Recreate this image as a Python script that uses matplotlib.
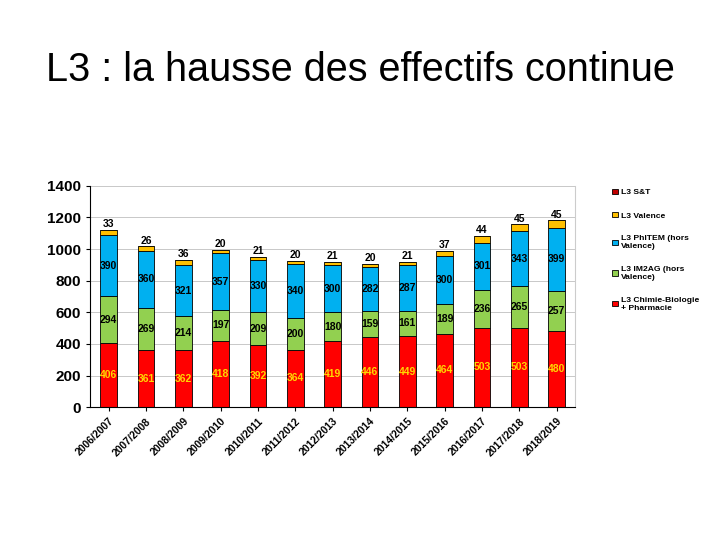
import matplotlib.pyplot as plt
import numpy as np

plt.rcParams['font.family'] = ['Liberation Sans', 'DejaVu Sans']

years = ['2006/2007', '2007/2008', '2008/2009', '2009/2010', '2010/2011', '2011/2012',
         '2012/2013', '2013/2014', '2014/2015', '2015/2016', '2016/2017', '2017/2018', '2018/2019']
chimie = [406, 361, 362, 418, 392, 364, 419, 446, 449, 464, 503, 503, 480]
im2ag = [294, 269, 214, 197, 209, 200, 180, 159, 161, 189, 236, 265, 257]
phitem = [390, 360, 321, 357, 330, 340, 300, 282, 287, 300, 301, 343, 399]
valence = [33, 26, 36, 20, 21, 20, 21, 20, 21, 37, 44, 45, 45]
st = [0] * 13

fig = plt.figure(figsize=(7.2, 5.4), dpi=100)
fig.text(0.5, 0.87, 'L3 : la hausse des effectifs continue', ha='center', va='center', fontsize=28.5)

ax = fig.add_axes([0.125, 0.246, 0.674, 0.41])
x = np.arange(len(years))
w = 0.45
ek = dict(edgecolor='black', linewidth=0.6)

b0 = np.array(chimie)
b1 = b0 + np.array(im2ag)
b2 = b1 + np.array(phitem)
b3 = b2 + np.array(valence)

h_st = ax.bar(x, st, w, bottom=b3, color='#C00000', **ek)
h_ch = ax.bar(x, chimie, w, color='#FF0000', **ek)
h_im = ax.bar(x, im2ag, w, bottom=b0, color='#92D050', **ek)
h_ph = ax.bar(x, phitem, w, bottom=b1, color='#00B0F0', **ek)
h_va = ax.bar(x, valence, w, bottom=b2, color='#FFC000', **ek)

for i in x:
    ax.text(i, chimie[i] / 2, str(chimie[i]), ha='center', va='center', color='#FFD700',
            fontsize=7.5, fontweight='bold')
    ax.text(i, b0[i] + im2ag[i] / 2, str(im2ag[i]), ha='center', va='center', color='black',
            fontsize=7.5, fontweight='bold')
    ax.text(i, b1[i] + phitem[i] / 2, str(phitem[i]), ha='center', va='center', color='black',
            fontsize=7.5, fontweight='bold')
    ax.text(i, b3[i] + 5, str(valence[i]), ha='center', va='bottom', color='black',
            fontsize=7.5, fontweight='bold')

ax.set_xlim(-0.5, len(years) - 0.5)
ax.set_ylim(0, 1400)
ax.set_yticks(range(0, 1401, 200))
ax.set_yticklabels([str(v) for v in range(0, 1401, 200)], fontsize=11, fontweight='bold')
ax.set_xticks(x)
ax.set_xticklabels(years, rotation=45, ha='right', rotation_mode='anchor', fontsize=7.5,
                   fontweight='bold')
ax.yaxis.grid(True, color='#C8C8C8', linewidth=0.7)
ax.set_axisbelow(True)
ax.spines['top'].set_visible(False)
ax.spines['right'].set_color('#CCCCCC')
ax.tick_params(axis='both', length=3)

fig.legend([h_st, h_va, h_ph, h_im, h_ch],
           ['L3 S&T', 'L3 Valence', 'L3 PhITEM (hors\nValence)', 'L3 IM2AG (hors\nValence)',
            'L3 Chimie-Biologie\n+ Pharmacie'],
           loc='upper left', bbox_to_anchor=(0.84, 0.665), frameon=False,
           prop={'size': 6.1, 'weight': 'bold'}, handlelength=0.6, handleheight=0.6,
           handletextpad=0.4, labelspacing=1.85)

fig.savefig('out.png', dpi=100)
